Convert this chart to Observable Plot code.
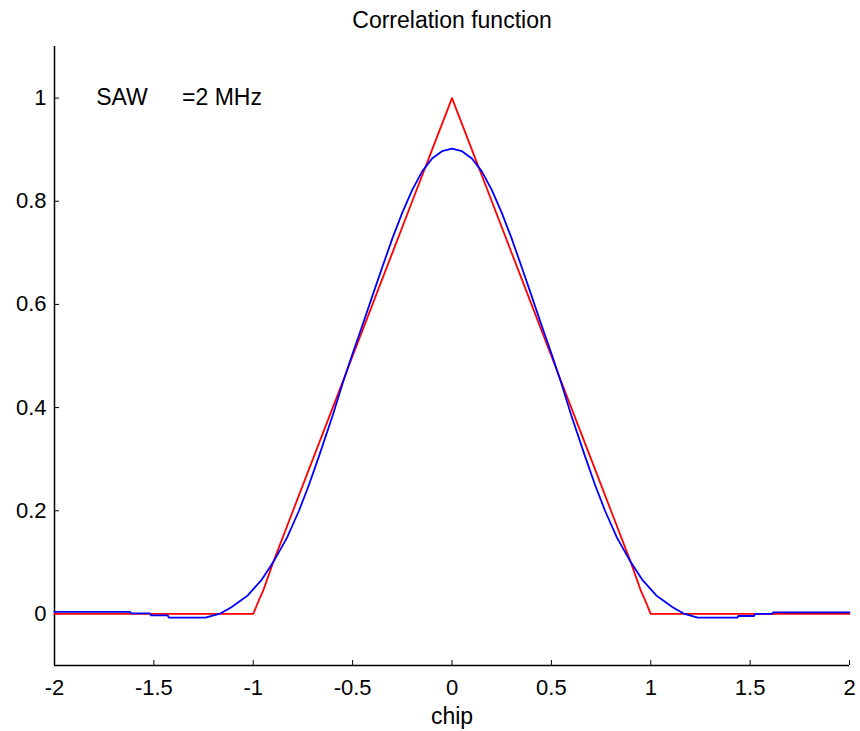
<!DOCTYPE html>
<html>
<head>
<meta charset="utf-8">
<script src="https://cdn.jsdelivr.net/npm/d3@7"></script>
<script src="https://cdn.jsdelivr.net/npm/@observablehq/plot@0.6"></script>
<style>
  html, body { margin: 0; padding: 0; background: #fff; }
</style>
</head>
<body>
<div id="chart"></div>
<script>
const titleText = "Correlation function";
const xLabelText = "chip";
const xDomain = [-2, 2];
const yDomain = [-0.1, 1.1];
const xTicks = [-2, -1.5, -1, -0.5, 0, 0.5, 1, 1.5, 2];
const yTicks = [0, 0.2, 0.4, 0.6, 0.8, 1];

// Red: correlation function (ideal)
const redX = [-2, -1, -0.97, -0.95, -0.9, -0.8, -0.7, -0.6, -0.5, -0.4, -0.3, -0.2, -0.1, 0, 0.1, 0.2, 0.3, 0.4, 0.5, 0.6, 0.7, 0.8, 0.9, 0.95, 0.97, 1, 2];
const redY = [0, 0, 0.028, 0.045, 0.1, 0.2, 0.3, 0.4, 0.5, 0.6, 0.7, 0.8, 0.9, 1, 0.9, 0.8, 0.7, 0.6, 0.5, 0.4, 0.3, 0.2, 0.1, 0.045, 0.028, 0, 0];

// Blue: SAW filtered correlation
const blueX = [-2, -1.62, -1.615, -1.52, -1.515, -1.43, -1.425, -1.24, -1.2, -1.17, -1.11, -1.07, -1.03, -0.96, -0.9, -0.83, -0.77, -0.72, -0.67, -0.6, -0.55, -0.5, -0.45, -0.4, -0.35, -0.3, -0.25, -0.2, -0.15, -0.1, -0.05, 0, 0.05, 0.1, 0.15, 0.2, 0.25, 0.3, 0.35, 0.4, 0.45, 0.5, 0.55, 0.6, 0.67, 0.72, 0.77, 0.83, 0.9, 0.96, 1.03, 1.07, 1.11, 1.17, 1.236, 1.437, 1.44, 1.52, 1.525, 1.61, 1.615, 2];
const blueY = [0.004, 0.004, 0.001, 0.001, -0.003, -0.003, -0.007, -0.007, -0.003, 0.0, 0.013, 0.024, 0.035, 0.065, 0.1, 0.148, 0.2, 0.25, 0.305, 0.385, 0.447, 0.505, 0.56, 0.617, 0.673, 0.728, 0.778, 0.822, 0.858, 0.883, 0.897, 0.902, 0.897, 0.883, 0.858, 0.822, 0.778, 0.728, 0.673, 0.617, 0.56, 0.505, 0.447, 0.385, 0.305, 0.25, 0.2, 0.148, 0.1, 0.065, 0.035, 0.024, 0.013, 0.0, -0.007, -0.007, -0.004, -0.004, 0.0, 0.0, 0.003, 0.003];

const annotations = [
  {x: -1.79, y: 1, text: "SAW"},
  {x: -1.358, y: 1, text: "=2 MHz"}
];

const red = redX.map((x, i) => ({x, y: redY[i]}));
const blue = blueX.map((x, i) => ({x, y: blueY[i]}));
const fmt = d => String(d);

const chart = Plot.plot({
  width: 860,
  height: 731,
  marginLeft: 54,
  marginRight: 11,
  marginTop: 46,
  marginBottom: 66,
  style: {fontFamily: "'Liberation Sans', Arial, Helvetica, sans-serif", fontSize: "22px", color: "black", background: "white", overflow: "visible"},
  x: {domain: xDomain},
  y: {domain: yDomain},
  marks: [
    Plot.axisX(xTicks, {tickSize: -5, tickPadding: 19, tickFormat: fmt, label: null, fontSize: 22, stroke: "black"}),
    Plot.axisY(yTicks, {tickSize: -5, tickPadding: 13, tickFormat: fmt, label: null, fontSize: 22, stroke: "black"}),
    Plot.ruleX([xDomain[0]], {stroke: "black", strokeWidth: 1.5}),
    Plot.ruleY([yDomain[0]], {stroke: "black", strokeWidth: 1.5}),
    Plot.line(red, {x: "x", y: "y", stroke: "#ff0000", strokeWidth: 1.8}),
    Plot.line(blue, {x: "x", y: "y", stroke: "#0000ff", strokeWidth: 1.8}),
    Plot.text(annotations, {x: "x", y: "y", text: "text", textAnchor: "start", lineAnchor: "middle", fontSize: 23, fill: "black"}),
    Plot.text([titleText], {text: d => d, frameAnchor: "top", dy: -19, lineAnchor: "bottom", fontSize: 23, fill: "black"}),
    Plot.text([xLabelText], {text: d => d, frameAnchor: "bottom", dy: 58, lineAnchor: "bottom", fontSize: 23, fill: "black"})
  ]
});
document.getElementById("chart").appendChild(chart);
</script>
</body>
</html>
